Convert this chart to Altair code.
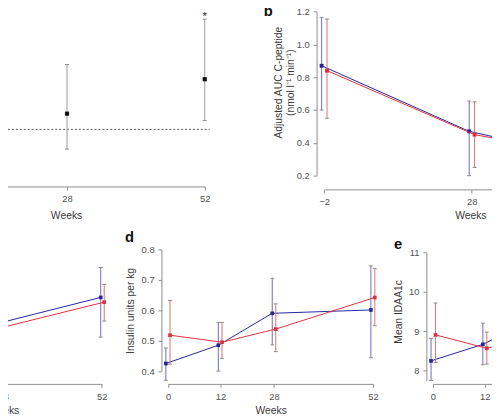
import altair as alt
import pandas as pd

# ---------------- data ----------------
# panel a (ratio, reference line at 1)
a_weeks = [28, 52]
a_est = [1.08, 1.255]
a_lo = [0.90, 1.045]
a_hi = [1.33, 1.56]
a_sig = ["", "*"]
a_ref = [1.0]

# panel b: adjusted AUC C-peptide
b_weeks = [-2, 28, 52]
b_blue = [0.87, 0.47, 0.31]
b_blue_lo = [0.60, 0.20, 0.15]
b_blue_hi = [1.165, 0.655, 0.48]
b_red = [0.84, 0.45, 0.32]
b_red_lo = [0.55, 0.25, 0.16]
b_red_hi = [1.155, 0.65, 0.48]

# panel c (only weeks 28 and 52 visible)
c_weeks = [28, 52]
c_blue = [7.40, 8.03]
c_blue_lo = [6.39, 7.02]
c_blue_hi = [8.18, 8.79]
c_red = [7.29, 7.91]
c_red_lo = [6.68, 7.43]
c_red_hi = [7.89, 8.36]

# panel d: insulin units per kg
d_weeks = [0, 12, 28, 52]
d_blue = [0.425, 0.485, 0.590, 0.601]
d_blue_lo = [0.370, 0.400, 0.486, 0.444]
d_blue_hi = [0.476, 0.560, 0.705, 0.746]
d_red = [0.518, 0.495, 0.538, 0.642]
d_red_lo = [0.423, 0.442, 0.464, 0.549]
d_red_hi = [0.632, 0.560, 0.621, 0.737]

# panel e: mean IDAA1c
e_weeks = [0, 12, 28, 52]
e_blue = [8.25, 8.67, 9.35, 9.0]
e_blue_lo = [7.75, 8.15, 8.7, 8.4]
e_blue_hi = [8.82, 9.21, 9.9, 9.6]
e_red = [8.91, 8.57, 8.9, 8.9]
e_red_lo = [8.21, 8.17, 8.4, 8.4]
e_red_hi = [9.72, 8.98, 9.4, 9.4]

# ---------------- styling ----------------
PX = 8          # page margin
W, H = 492, 412
BLUE = "#24249f"
RED = "#e0303a"
BLUE_ERR = "#6a6ac2"
RED_ERR = "#d4746c"
CAP = "#8a8a8a"
AXIS = "#8c8c8c"
LABEL = "#505050"
FONT = "Liberation Sans"


def df_of(weeks, est, lo, hi):
    return pd.DataFrame({"week": weeks, "est": est, "lo": lo, "hi": hi})


def sc(domain, page_range):
    return alt.Scale(domain=domain, range=[r - PX for r in page_range], nice=False, zero=False)


def xax(values, page_y, title, title_page_x, title_dy=27, fmt="d"):
    return alt.Axis(orient="bottom", offset=page_y - PX - H, values=values, format=fmt,
                    title=title, titleX=title_page_x - PX, titleY=title_dy,
                    titleAlign="center", titleBaseline="middle", titleAngle=0)


def yax(values, page_x, title, title_page_x, title_page_y, fmt):
    return alt.Axis(orient="left", offset=-(page_x - PX), values=values, format=fmt,
                    title=title, titleX=title_page_x - page_x, titleY=title_page_y - PX,
                    titleAngle=270, titleAlign="center", titleBaseline="middle")


def group_layers(df, xs, ys, off, line_col, err_col, pt_size, xaxis=None, yaxis=None, draw_line=True):
    base = alt.Chart(df).transform_calculate(xpos=f"datum.week + ({off})")

    def X(ax=None):
        return alt.X("xpos:Q", scale=xs, axis=ax)

    out = [
        base.mark_rule(color=err_col, strokeWidth=1).encode(
            x=X(), y=alt.Y("lo:Q", scale=ys, axis=None), y2="hi:Q"),
        base.mark_tick(orient="horizontal", size=4, thickness=1, color=CAP, opacity=1).encode(
            x=X(), y=alt.Y("lo:Q", scale=ys, axis=None)),
        base.mark_tick(orient="horizontal", size=4, thickness=1, color=CAP, opacity=1).encode(
            x=X(), y=alt.Y("hi:Q", scale=ys, axis=None)),
    ]
    if draw_line:
        out.append(base.mark_line(color=line_col, strokeWidth=1).encode(
            x=X(), y=alt.Y("est:Q", scale=ys, axis=None)))
    out.append(base.mark_square(color=line_col, size=pt_size, opacity=1).encode(
        x=X(xaxis), y=alt.Y("est:Q", scale=ys, axis=yaxis)))
    return out


layers = []

# ---- panel a ----
a_x = sc([-2, 52], [-107, 208])
a_y = sc([0.5, 1.6], [228, 8])
a_df = df_of(a_weeks, a_est, a_lo, a_hi)
a_df["sig"] = a_sig
layers.append(alt.Chart(pd.DataFrame({"ref": a_ref})).mark_rule(
    color="#555555", strokeDash=[2, 2], strokeWidth=1).encode(
    y=alt.Y("ref:Q", scale=a_y, axis=None), x=alt.value(0), x2=alt.value(213 - PX)))
layers += group_layers(a_df, a_x, a_y, 0, "#111111", "#9a9a9a", 18,
                       xaxis=xax([-2, 28, 52], 186, "Weeks", 67, 30), draw_line=False)
layers.append(alt.Chart(a_df).mark_text(fontSize=12, color="#333333", baseline="alphabetic", dy=1,
                                        font=FONT).encode(
    x=alt.X("week:Q", scale=a_x, axis=None), y=alt.Y("hi:Q", scale=a_y, axis=None), text="sig:N"))

# ---- panel b ----
b_x = sc([-2, 52], [329.3, 599.3])
b_y = sc([0.2, 1.2], [175, 8.3])
layers += group_layers(df_of(b_weeks, b_blue, b_blue_lo, b_blue_hi), b_x, b_y, -0.5, BLUE, BLUE_ERR, 16,
                       xaxis=xax([-2, 28, 52], 189, "Weeks", 478, 27),
                       yaxis=yax([0.2, 0.4, 0.6, 0.8, 1.0, 1.2], 321.7,
                                 ["Adjusted AUC C-peptide", "(nmol l\u207b\u00b9 min\u207b\u00b9)"],
                                 283, 80, ".1f"))
layers += group_layers(df_of(b_weeks, b_red, b_red_lo, b_red_hi), b_x, b_y, 0.6, RED, RED_ERR, 16)

# ---- panel c ----
c_x = sc([0, 12, 28, 52], [-104, -51, 3.3, 103.3])
c_y = sc([6, 9], [380, 260])
layers += group_layers(df_of(c_weeks, c_blue, c_blue_lo, c_blue_hi), c_x, c_y, -0.25, BLUE, BLUE_ERR, 14,
                       xaxis=xax([0, 12, 28, 52], 386.7, "Weeks", 3, 27))
layers += group_layers(df_of(c_weeks, c_red, c_red_lo, c_red_hi), c_x, c_y, 0.6, RED, RED_ERR, 14)

# ---- panel d ----
d_x = sc([0, 12, 28, 52], [170.7, 224, 278.3, 379])
d_y = sc([0.4, 0.8], [373.7, 250])
layers += group_layers(df_of(d_weeks, d_blue, d_blue_lo, d_blue_hi), d_x, d_y, -0.5, BLUE, BLUE_ERR, 14,
                       xaxis=xax([0, 12, 28, 52], 386.7, "Weeks", 275, 27),
                       yaxis=yax([0.4, 0.5, 0.6, 0.7, 0.8], 164, "Insulin units per kg", 132.7, 312, ".1f"))
layers += group_layers(df_of(d_weeks, d_red, d_red_lo, d_red_hi), d_x, d_y, 0.45, RED, RED_ERR, 14)

# ---- panel e ----
e_x = sc([0, 12, 28, 52], [440, 492.7, 547, 648])
e_y = sc([7.75, 11], [383.3, 253.3])
layers += group_layers(df_of(e_weeks, e_blue, e_blue_lo, e_blue_hi), e_x, e_y, -0.45, BLUE, BLUE_ERR, 14,
                       xaxis=xax([0, 12, 28, 52], 386.7, "Weeks", 545, 27),
                       yaxis=yax([8, 9, 10, 11], 433.3, "Mean IDAA1c", 405, 313, "d"))
layers += group_layers(df_of(e_weeks, e_red, e_red_lo, e_red_hi), e_x, e_y, 0.6, RED, RED_ERR, 14)

# ---- panel letters ----
for letter, px, py in [("b", 272.5, 13), ("d", 131.5, 242), ("e", 404.5, 249.5)]:
    layers.append(alt.Chart(pd.DataFrame({"t": [letter]})).mark_text(
        fontSize=15, fontWeight="bold", font=FONT, color="#111111", baseline="alphabetic", align="center"
    ).encode(text="t:N", x=alt.value(px - PX), y=alt.value(py - PX)))

chart = alt.layer(*layers).resolve_scale(x="independent", y="independent").properties(
    width=W, height=H, autosize=alt.AutoSizeParams(type="none"), padding=0
).configure_view(stroke=None).configure_axis(
    grid=False, domainColor=AXIS, tickColor=AXIS, domainWidth=1, tickWidth=1, tickSize=3.5,
    labelColor=LABEL, labelFont=FONT, labelFontSize=9.5, labelPadding=4,
    titleFont=FONT, titleFontSize=10.5, titleFontWeight="normal", titleColor="#3a3a3a",
    labelFlush=False, labelOverlap=False
)

chart.save("out.html", embed_options={"renderer": "svg", "actions": False})
